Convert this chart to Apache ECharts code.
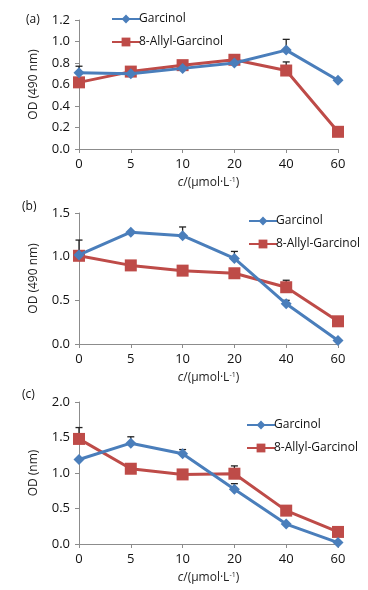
<!DOCTYPE html>
<html>
<head>
<meta charset="utf-8">
<script src="https://cdn.jsdelivr.net/npm/echarts@6/dist/echarts.min.js"></script>
<style>
html,body{margin:0;padding:0;background:#fff;}
#chart{width:368px;height:590px;}
</style>
</head>
<body>
<div id="chart"></div>
<script>
// 浓度（横轴类目）
var concList = ['0', '5', '10', '20', '40', '60'];
var seriesNames = ['Garcinol', '8-Allyl-Garcinol'];

// (a)
var garcA = [0.71, 0.70, 0.75, 0.80, 0.92, 0.64];
var allylA = [0.62, 0.72, 0.78, 0.83, 0.73, 0.16];
var garcErrA = [0.06, 0, 0, 0, 0.10, 0];
var allylErrA = [0, 0, 0, 0, 0.08, 0];
// (b)
var garcB = [1.02, 1.28, 1.24, 0.98, 0.46, 0.04];
var allylB = [1.01, 0.90, 0.84, 0.81, 0.65, 0.26];
var garcErrB = [0.17, 0, 0.10, 0.08, 0.04, 0];
var allylErrB = [0, 0, 0, 0, 0.08, 0.02];
// (c)
var garcC = [1.19, 1.42, 1.27, 0.77, 0.28, 0.02];
var allylC = [1.48, 1.06, 0.98, 0.99, 0.47, 0.17];
var garcErrC = [0, 0.09, 0.06, 0.08, 0, 0];
var allylErrC = [0.16, 0, 0, 0.11, 0.06, 0];

var blue = '#4a7ebb', red = '#be4b48';
var FONT = 'Open Sans';

var panels = [
	{label:'(a)', labelX:26, labelY:14, yName:'OD (490 nm)', max:1.2, interval:0.2, top:20, height:129, garc:garcA, allyl:allylA, ge:garcErrA, ae:allylErrA, legendLeft:106, legendTop:8},
	{label:'(b)', labelX:22, labelY:201, yName:'OD (490 nm)', max:1.5, interval:0.5, top:213, height:131, garc:garcB, allyl:allylB, ge:garcErrB, ae:allylErrB, legendLeft:243, legendTop:210},
	{label:'(c)', labelX:22, labelY:389, yName:'OD (nm)', max:2.0, interval:0.5, top:402, height:142, garc:garcC, allyl:allylC, ge:garcErrC, ae:allylErrC, legendLeft:241, legendTop:414}
];

var grids=[], xAxes=[], yAxes=[], series=[], legends=[], graphics=[];

//误差线
function errItem(params, api){
	var top = api.coord([api.value(0), api.value(1) + api.value(2)]);
	var base = api.coord([api.value(0), api.value(1)]);
	if(api.value(2) <= 0) return null;
	var style = {stroke:'#222', lineWidth:1.3};
	return {type:'group', children:[
		{type:'line', shape:{x1:base[0], y1:base[1], x2:top[0], y2:top[1]}, style:style},
		{type:'line', shape:{x1:top[0]-3.5, y1:top[1], x2:top[0]+3.5, y2:top[1]}, style:style}
	]};
}

panels.forEach(function(p, i){
	grids.push({left:79, right:30, top:p.top, height:p.height});
	xAxes.push({
		type:'category', gridIndex:i, data:concList, boundaryGap:false,
		axisLine:{lineStyle:{color:'#8c8c8c'}},
		axisTick:{alignWithLabel:true, length:4, lineStyle:{color:'#8c8c8c'}},
		axisLabel:{color:'#111', fontSize:13, fontFamily:FONT, margin:9},
		name:'{i|c}{n|/(μmol·L}{s|-1}{n|)}', nameLocation:'middle', nameGap:27,
		nameTextStyle:{rich:{
			i:{fontStyle:'italic', fontSize:12, fontFamily:FONT, color:'#222'},
			n:{fontSize:12, fontFamily:FONT, color:'#222'},
			s:{fontSize:7, fontFamily:FONT, color:'#222', verticalAlign:'top', padding:[0,0,6,0]}
		}}
	});
	yAxes.push({
		type:'value', gridIndex:i, min:0, max:p.max, interval:p.interval,
		splitLine:{show:false},
		axisLine:{show:true, lineStyle:{color:'#8c8c8c'}},
		axisTick:{show:true, length:4, lineStyle:{color:'#8c8c8c'}},
		axisLabel:{color:'#111', fontSize:13, fontFamily:FONT, margin:9, formatter:function(v){return v.toFixed(1);}},
		name:p.yName, nameLocation:'middle', nameGap:39, nameRotate:90,
		nameTextStyle:{fontSize:12, fontFamily:FONT, color:'#222'}
	});
	var vals=[p.garc, p.allyl], errs=[p.ge, p.ae];
	for(var k=0;k<2;k++){
		series.push({
			type:'custom', xAxisIndex:i, yAxisIndex:i, z:1, silent:true,
			renderItem:errItem,
			data:vals[k].map(function(v,j){return [j, v, errs[k][j]];})
		});
	}
	series.push({
		name:seriesNames[0], type:'line', xAxisIndex:i, yAxisIndex:i, z:3,
		data:p.garc, symbol:'diamond', symbolSize:11, color:blue,
		lineStyle:{width:3, color:blue}, itemStyle:{color:blue}
	});
	series.push({
		name:seriesNames[1], type:'line', xAxisIndex:i, yAxisIndex:i, z:2,
		data:p.allyl, symbol:'rect', symbolSize:12, color:red,
		lineStyle:{width:3, color:red}, itemStyle:{color:red}
	});
	legends.push({
		left:p.legendLeft, top:p.legendTop, orient:'vertical', itemGap:11,
		itemWidth:28, itemHeight:11, data:seriesNames,
		textStyle:{fontSize:12, fontFamily:FONT, color:'#111', padding:[0,0,0,-6]}
	});
	graphics.push({
		type:'text', left:p.labelX, top:p.labelY,
		style:{text:p.label, fontSize:12, fontFamily:FONT, fill:'#111'}
	});
});

var myChart = echarts.init(document.getElementById('chart'));
var option = {
	animation:false,
	backgroundColor:'#fff',
	grid:grids, xAxis:xAxes, yAxis:yAxes,
	legend:legends,
	graphic:graphics,
	series:series
};
myChart.setOption(option);
</script>
</body>
</html>
